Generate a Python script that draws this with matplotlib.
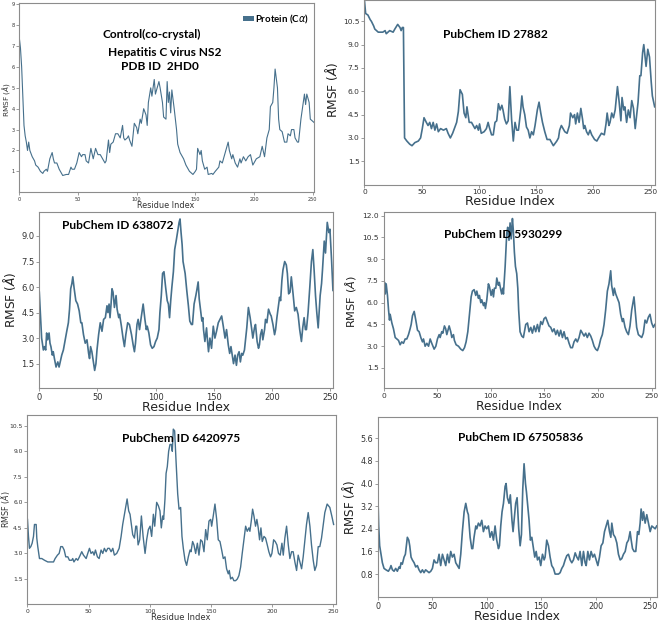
import matplotlib
matplotlib.use("Agg")
import matplotlib.pyplot as plt
import numpy as np
from matplotlib.patches import Patch

W, H = 661, 623
LINE = "#46708c"
SPINE = "#8c8c8c"
TICK_TXT = "#333333"
BOLD_FONT = ["Lato", "DejaVu Sans"]
YLABEL = r"RMSF ($\AA$)"

# (residue index, RMSF in Angstrom)
control_2hd0 = [
    (0, 7.4), (1, 6.9), (2, 6.0), (4, 3.2), (5, 2.7), (6, 2.4), (7, 2.0), (8, 2.4), (9, 2.0), (11, 1.7),
    (13, 1.5), (14, 1.3), (16, 1.2), (18, 1.0), (20, 0.9), (21, 1.0), (23, 1.1), (24, 1.0), (26, 1.6), (28, 1.9),
    (29, 1.6), (30, 1.4), (32, 1.4), (34, 1.1), (35, 1.0), (37, 0.8), (40, 0.85), (42, 0.85), (44, 1.2), (45, 1.1),
    (47, 1.1), (49, 1.4), (51, 1.9), (53, 1.7), (54, 1.8), (56, 1.8), (57, 1.5), (59, 1.4), (61, 2.1), (63, 1.6),
    (65, 2.1), (67, 1.8), (69, 1.8), (70, 1.7), (72, 1.5), (73, 1.4), (74, 1.5), (76, 2.5), (77, 1.9), (78, 2.3),
    (80, 2.4), (82, 2.8), (84, 2.8), (86, 2.6), (88, 3.2), (89, 2.6), (90, 2.5), (92, 2.6), (93, 2.7), (94, 2.5),
    (96, 2.2), (98, 3.3), (100, 3.1), (101, 2.8), (103, 3.5), (104, 3.3), (106, 4.0), (108, 3.7), (109, 3.2), (110, 4.3),
    (112, 5.0), (113, 4.6), (115, 5.4), (116, 4.7), (117, 4.9), (119, 5.3), (120, 5.0), (122, 4.3), (123, 3.6), (125, 3.5),
    (126, 5.3), (127, 4.3), (128, 4.8), (129, 3.8), (130, 4.9), (132, 4.0), (134, 3.0), (135, 2.3), (137, 1.9), (140, 1.6),
    (142, 1.3), (145, 1.0), (148, 0.85), (150, 1.0), (151, 1.1), (152, 2.1), (154, 1.8), (155, 2.0), (156, 1.5), (158, 1.1),
    (160, 1.2), (161, 0.85), (164, 0.9), (165, 0.85), (167, 1.0), (170, 1.2), (171, 1.5), (173, 1.4), (174, 1.6), (176, 2.0),
    (178, 2.4), (179, 2.0), (181, 1.6), (182, 1.8), (184, 1.4), (186, 1.2), (188, 1.6), (189, 1.4), (191, 1.7), (193, 1.5),
    (195, 1.7), (197, 1.8), (199, 1.3), (202, 1.6), (205, 1.7), (207, 2.2), (209, 1.7), (211, 2.6), (213, 3.0), (214, 4.1),
    (216, 4.3), (217, 5.0), (218, 5.9), (220, 5.0), (221, 3.5), (222, 3.0), (224, 2.9), (226, 2.4), (228, 2.4), (229, 2.8),
    (231, 2.7), (232, 3.0), (234, 3.0), (235, 2.6), (237, 2.4), (238, 2.4), (240, 3.5), (241, 3.9), (243, 4.7), (244, 4.2),
    (245, 4.7), (247, 4.3), (248, 3.5), (250, 3.4), (252, 3.3),
]

cid_27882 = [
    (0, 11.8), (1, 11.0), (3, 10.9), (5, 10.6), (6, 10.5), (8, 10.2), (9, 10.0), (12, 9.8), (14, 9.8), (16, 9.8),
    (18, 9.9), (19, 9.7), (22, 9.9), (25, 9.8), (26.5, 10.0), (29, 10.3), (31, 10.1), (32, 9.9), (33, 10.1), (34, 10.1),
    (35, 3.0), (37, 2.8), (39.5, 2.6), (41.5, 2.5), (44, 2.7), (47, 2.8), (49, 3.0), (50.5, 3.6), (52, 4.3), (54, 4.0),
    (55.5, 3.8), (57, 4.0), (58.5, 3.6), (60, 4.0), (61.5, 3.5), (63, 3.9), (64.5, 3.4), (66.5, 3.6), (69, 3.5), (71.5, 3.6),
    (73, 3.3), (75, 3.0), (77, 3.3), (79, 3.7), (80.5, 4.0), (82, 4.7), (83.5, 6.1), (85.5, 5.8), (87, 4.6), (88.5, 4.3),
    (89.5, 5.0), (91.5, 4.0), (93.5, 4.0), (95, 3.8), (96.5, 3.6), (98, 3.8), (99.5, 3.5), (100.5, 3.9), (102, 3.3), (104.5, 3.4),
    (106.5, 3.6), (108, 4.0), (109, 3.7), (111, 3.2), (112.5, 3.2), (114, 4.0), (115.5, 4.1), (117, 5.2), (118.5, 4.8), (120, 5.1),
    (121, 4.8), (122.5, 4.2), (124, 3.9), (125.5, 4.1), (127, 6.3), (128.5, 4.2), (130, 2.8), (131.5, 4.0), (133, 3.5), (134.5, 3.5),
    (136.5, 4.8), (137.5, 5.7), (138.5, 5.0), (140, 4.5), (141.5, 3.7), (143, 3.5), (144.5, 3.0), (146, 3.4), (147.5, 3.2), (149, 3.8),
    (151, 4.8), (152.5, 5.3), (154, 4.6), (155.5, 4.0), (157.5, 3.4), (159.5, 2.9), (162, 2.9), (165, 2.5), (168, 2.8), (169.5, 3.0),
    (170.5, 3.5), (172, 3.8), (175, 3.4), (177, 3.3), (179, 3.8), (180, 4.6), (182, 4.3), (183.5, 4.5), (184.5, 3.9), (186, 4.6),
    (187.5, 4.0), (189, 4.9), (190.5, 4.2), (191.5, 3.6), (192.5, 3.8), (194, 3.4), (195.5, 3.2), (197, 3.5), (198.5, 3.2), (201, 2.9),
    (203, 2.8), (204.5, 3.0), (207, 3.3), (209.5, 3.2), (211, 3.9), (212, 4.6), (213.5, 3.8), (214.5, 4.0), (216, 4.6), (217.5, 4.3),
    (219, 4.8), (221, 6.3), (222.5, 5.3), (224, 4.1), (225, 5.6), (226.5, 4.8), (227.5, 5.0), (229, 4.0), (230.5, 4.8), (232, 4.3),
    (233.5, 5.4), (235, 4.9), (236.5, 3.6), (238, 4.6), (239, 5.3), (240.5, 7.0), (241.5, 7.0), (243, 8.5), (244, 9.0), (246, 7.6),
    (247.5, 8.7), (249, 8.2), (250.5, 6.6), (251.5, 5.7), (253.5, 5.0),
]

cid_638072 = [
    (0, 5.7), (1, 4.4), (2, 3.0), (3.5, 2.3), (4.5, 2.5), (5.5, 2.3), (6.3, 3.3), (7.2, 2.9), (8.4, 3.3), (9.2, 2.7),
    (10, 2.5), (11.2, 2.0), (12, 2.2), (13, 1.8), (14.4, 1.3), (15.9, 1.6), (17, 1.3), (18, 1.6), (19.3, 2.0), (20.7, 2.3),
    (22, 2.8), (23.6, 3.4), (25, 3.9), (26, 4.7), (27, 5.9), (28, 6.2), (28.8, 6.6), (30, 5.9), (31.4, 5.2), (32.9, 5.0),
    (34.3, 4.6), (35.7, 3.9), (36.6, 3.9), (38, 3.2), (39.5, 2.7), (41, 2.9), (42.4, 2.1), (43.2, 1.8), (44.1, 2.5), (45.2, 2.2),
    (46.7, 1.5), (47.6, 1.1), (48.7, 1.5), (49.6, 2.3), (51, 3.2), (52.4, 3.9), (53.9, 3.4), (55.3, 4.1), (56.8, 4.2), (58.2, 4.9),
    (59, 4.5), (60, 5.0), (60.8, 4.2), (61.7, 5.0), (62.5, 5.9), (63.4, 5.7), (64.6, 4.8), (66, 5.5), (66.9, 4.7), (68.3, 4.2),
    (69, 4.4), (70.6, 3.7), (72, 3.0), (73.2, 2.5), (74.4, 3.2), (76, 3.9), (77.5, 3.8), (79.3, 3.2), (80.7, 2.6), (81.8, 2.2),
    (82.7, 2.7), (84, 3.8), (85, 4.1), (86.2, 3.5), (87.6, 4.2), (89.3, 5.0), (90.8, 4.1), (92, 3.5), (92.8, 3.7), (94.2, 3.3),
    (95.7, 2.6), (97.1, 2.4), (98.6, 2.5), (100, 2.8), (101.4, 3.0), (102.9, 3.5), (103.7, 4.5), (104.9, 5.5), (106, 6.8), (107.2, 6.9),
    (108.6, 6.0), (110, 5.2), (111, 5.0), (112, 4.2), (113, 5.2), (114, 6.0), (115.3, 6.9), (116.4, 8.2), (117.9, 8.8), (120.2, 9.8),
    (121, 10.0), (121.9, 9.2), (122.8, 8.5), (123.6, 7.5), (125.4, 6.8), (126.8, 5.8), (128.2, 4.9), (129.4, 4.0), (130.8, 3.8), (131.7, 3.8),
    (133.1, 5.0), (134.6, 5.5), (135.4, 5.8), (136.6, 6.3), (137.5, 5.3), (138.9, 4.5), (139.8, 4.0), (140.6, 4.2), (141.2, 3.5), (142.4, 2.8),
    (143.8, 3.6), (144.7, 2.8), (145.5, 2.2), (146.7, 3.0), (148.1, 2.4), (149.6, 3.7), (151, 3.0), (152.4, 3.4), (153.9, 3.9), (155.3, 4.1),
    (156.8, 4.3), (158.2, 3.7), (159.7, 3.0), (161, 3.5), (162.5, 2.6), (163.7, 2.1), (164.8, 2.5), (166.3, 1.8), (167, 1.5), (168.3, 2.0),
    (169.5, 1.4), (170.6, 2.0), (171.8, 2.2), (172.9, 1.6), (174, 2.1), (175, 2.0), (176.4, 2.3), (177.2, 2.8), (178.4, 3.6), (179.8, 4.8),
    (181.3, 4.2), (182.7, 3.5), (183.6, 3.0), (185, 3.6), (185.9, 3.8), (187.3, 2.8), (188.5, 2.4), (189.3, 2.6), (190.2, 3.2), (191.4, 3.5),
    (192.2, 2.9), (193.7, 3.5), (194.5, 4.1), (195.7, 3.9), (197.1, 4.7), (198.6, 4.4), (199.4, 4.3), (200.9, 3.8), (202.3, 3.2), (203.2, 3.5),
    (204.3, 4.2), (205.8, 5.0), (206.6, 5.4), (207.5, 5.2), (208.6, 6.4), (209.5, 7.0), (211, 7.5), (212.4, 7.3), (213.3, 6.8), (214.4, 5.6),
    (215.6, 5.7), (216.7, 6.6), (218.2, 5.6), (219.6, 4.6), (221, 4.8), (222.5, 4.4), (223.9, 3.5), (225.4, 2.8), (226.5, 3.6), (227.7, 4.2),
    (228.8, 3.5), (229.7, 3.5), (231.1, 4.5), (232.6, 6.0), (234, 7.5), (235.2, 8.2), (236.3, 7.0), (237.5, 5.5), (238.6, 4.5), (239.8, 3.6),
    (240.6, 4.5), (241.5, 5.5), (242.7, 6.2), (243.5, 7.0), (245, 8.7), (246.1, 8.0), (247.6, 9.8), (249, 9.2), (249.9, 9.4), (251.3, 7.6),
    (252.5, 5.8),
]

cid_5930299 = [
    (0, 6.8), (1, 7.4), (1.6, 6.6), (2.5, 7.3), (3.7, 6.5), (4.7, 5.5), (5.6, 4.8), (6.2, 5.2), (7.8, 4.6), (9.3, 4.2),
    (10.9, 3.6), (12.4, 3.5), (14, 3.4), (15.5, 3.1), (17, 3.3), (18.6, 3.2), (20.2, 3.5), (21.7, 3.5), (23.3, 3.8), (24.8, 4.2),
    (25.8, 4.5), (27, 5.1), (28.6, 5.4), (30.1, 4.8), (31.7, 4.1), (33.2, 4.0), (34.8, 3.6), (36.3, 3.3), (37.3, 3.5), (38.8, 3.0),
    (40.4, 3.2), (42, 3.0), (43.5, 3.5), (45, 3.2), (47.2, 2.8), (48.8, 3.0), (50.3, 3.5), (51.9, 3.8), (52.8, 3.6), (54.3, 4.0),
    (55.3, 3.9), (56.8, 4.4), (58, 4.2), (59, 3.8), (61.2, 4.4), (62.7, 4.0), (63.7, 3.6), (65.2, 3.8), (66.1, 3.4), (67.7, 3.1),
    (69.9, 3.0), (72, 2.8), (73.9, 2.7), (75.5, 2.9), (77, 3.3), (78.6, 4.0), (80.1, 5.2), (81.7, 6.4), (82.9, 6.8), (84.5, 6.9),
    (86, 6.5), (87, 6.8), (88.5, 6.3), (89.4, 6.5), (90.7, 6.0), (91.6, 6.2), (93.2, 5.8), (94.1, 6.0), (95, 5.6), (96.3, 6.2),
    (97.8, 7.3), (98.8, 7.1), (100.3, 6.5), (101.6, 6.9), (102.5, 6.4), (103.4, 7.0), (104.7, 7.0), (105.6, 7.7), (107.1, 7.2), (108, 7.4),
    (109.3, 6.9), (110.2, 6.6), (111.2, 7.0), (111.8, 6.6), (113.4, 8.5), (114.9, 10.8), (115.8, 11.2), (117, 10.3), (118, 11.5), (119, 10.4),
    (120.2, 11.8), (121, 11.0), (122, 9.5), (123, 8.5), (124.2, 8.0), (125.2, 7.0), (126, 5.5), (127.3, 4.0), (128.9, 3.7), (130.4, 3.6),
    (132.6, 4.5), (134.2, 4.6), (135.7, 4.0), (137.3, 4.3), (138.8, 3.9), (140.4, 4.4), (141.9, 4.0), (143.5, 4.5), (145, 4.0), (146.6, 4.7),
    (148.1, 4.5), (149.7, 4.9), (151.2, 5.0), (152.8, 4.7), (154.3, 4.4), (155.9, 4.3), (157.5, 4.0), (159, 4.2), (160.6, 3.8), (162.1, 4.1),
    (163.7, 3.7), (165.2, 4.1), (166.8, 3.6), (168.3, 4.0), (169.9, 3.5), (171.4, 3.6), (173, 3.2), (174.5, 2.9), (176.1, 2.9), (177.6, 3.3),
    (179.2, 3.5), (180.7, 3.3), (182.3, 3.6), (183.9, 4.1), (185.4, 3.9), (187, 3.7), (188.5, 3.9), (190, 3.6), (191.6, 3.9), (193.2, 3.7),
    (194.7, 3.4), (196.3, 3.0), (197.8, 2.8), (199.4, 2.7), (200.9, 3.0), (202.5, 3.5), (204, 3.8), (205.6, 4.5), (207.1, 5.5), (208.7, 6.8),
    (210.2, 7.3), (211.8, 8.2), (212.7, 7.2), (214.3, 6.5), (215.2, 7.0), (216.5, 6.6), (218, 6.3), (219.6, 6.0), (221.1, 5.2), (222.7, 4.7),
    (223.6, 4.9), (225.2, 4.3), (226.7, 4.0), (228.3, 3.8), (229.8, 4.4), (231.4, 5.5), (233.5, 6.4), (234.8, 5.3), (236, 4.3), (237.6, 3.8),
    (239.1, 3.7), (240.7, 3.6), (242.2, 3.9), (243.8, 4.8), (245.3, 4.6), (246.9, 5.0), (248.4, 5.2), (250, 4.6), (251.6, 4.3), (253, 4.5),
]

cid_6420975 = [
    (0, 5.0), (0.8, 4.0), (1.6, 3.3), (2.7, 3.4), (3.8, 3.6), (4.9, 4.0), (5.7, 4.7), (7.1, 4.7), (7.6, 3.9), (8.4, 3.4),
    (9.8, 2.7), (11.7, 2.7), (13.9, 2.6), (16.6, 2.5), (18.5, 2.5), (21.3, 2.5), (22.6, 2.7), (24.5, 2.9), (25.9, 3.0), (27.2, 3.4),
    (28.6, 3.4), (30, 3.2), (31.3, 2.8), (33, 2.8), (34.3, 2.6), (36.2, 2.6), (37, 2.7), (38, 2.5), (39.8, 2.7), (41.1, 2.6),
    (42.5, 2.8), (44.4, 3.1), (45.8, 2.9), (48, 2.7), (49.3, 3.0), (50.7, 3.3), (52, 3.0), (53.4, 3.1), (54.5, 2.9), (55.6, 3.2),
    (57.2, 2.8), (58.6, 2.7), (60.2, 3.2), (61.6, 3.0), (62.9, 3.3), (64.3, 3.1), (65.7, 3.3), (67, 3.3), (68.4, 3.1), (69.8, 3.3),
    (71.1, 2.9), (73, 3.0), (75, 3.3), (76.6, 4.0), (77.9, 4.7), (79.8, 5.5), (81.5, 6.2), (82.8, 5.5), (83.9, 5.3), (86.1, 4.1),
    (87.5, 3.9), (88.6, 4.6), (89.4, 4.6), (90.5, 3.5), (91.8, 3.8), (93.2, 5.2), (94.6, 4.0), (96.2, 3.0), (97.5, 3.8), (98.9, 4.4),
    (100.3, 4.6), (101.6, 4.0), (103, 5.3), (104.1, 4.6), (105.7, 6.0), (107.1, 5.8), (108.4, 5.5), (109.5, 4.5), (110.6, 5.2), (111.4, 5.0),
    (112.5, 6.2), (113.4, 7.7), (114.4, 8.1), (115.5, 9.0), (116.6, 9.4), (117.7, 9.4), (118.5, 9.0), (119.3, 10.3), (120.4, 10.2), (121.5, 8.5),
    (122.9, 6.5), (124, 5.6), (125.3, 5.7), (126.4, 4.0), (127.5, 3.3), (128.9, 2.6), (130.2, 2.3), (131.6, 2.8), (133, 3.2), (133.8, 3.1),
    (135.1, 3.7), (136.2, 3.5), (137.6, 3.0), (139, 3.6), (140.3, 2.9), (141.7, 3.8), (143, 3.7), (144.4, 3.1), (145.8, 4.4), (147.1, 3.8),
    (148.5, 4.9), (149.9, 5.0), (150.7, 4.6), (152, 5.2), (153.4, 5.9), (154.8, 5.0), (156.1, 3.8), (157.5, 3.7), (158.9, 3.2), (160.2, 2.7),
    (161.6, 2.8), (162.9, 2.1), (164.3, 1.8), (165.1, 2.0), (166.2, 1.5), (167.6, 1.6), (168.9, 1.4), (170.3, 1.4), (171.7, 1.5), (173, 1.7),
    (174.4, 2.2), (175.7, 3.0), (177.1, 3.8), (178.5, 4.6), (179.8, 4.3), (181.2, 4.5), (182, 4.3), (183.1, 4.9), (184.2, 5.6), (185.3, 5.2),
    (186.6, 4.6), (187.7, 5.0), (188.8, 4.5), (189.9, 3.8), (191, 4.5), (192.1, 3.7), (193.5, 4.0), (194.8, 3.9), (196.2, 3.5), (197.5, 3.1),
    (198.9, 2.8), (200, 3.0), (201.4, 3.8), (202.7, 3.7), (204.1, 3.5), (205.4, 3.0), (206.8, 2.9), (208.2, 3.6), (209.3, 2.9), (210.6, 3.9),
    (212, 4.6), (213.4, 3.5), (214.7, 2.7), (216.1, 3.1), (217.4, 3.1), (218.8, 2.5), (220.2, 2.0), (221.5, 2.9), (222.9, 2.5), (224.3, 2.1),
    (225.6, 2.8), (227, 3.8), (228.3, 4.7), (229.7, 5.4), (231.1, 4.6), (232.4, 3.5), (233.8, 2.6), (235.1, 2.0), (236.5, 2.3), (237.9, 3.4),
    (239.2, 3.4), (240.6, 3.9), (242, 4.7), (243.3, 5.4), (245.2, 5.9), (247.4, 5.7), (249, 5.2), (250.5, 4.7),
]

cid_67505836 = [
    (0, 3.9), (0.9, 2.5), (1.8, 1.8), (3, 1.5), (4.3, 1.2), (5.8, 1.0), (7.6, 0.95), (9.8, 0.9), (11.3, 1.0), (12.2, 1.1),
    (13.5, 0.95), (15, 0.9), (16.5, 1.0), (18, 0.9), (19.6, 1.05), (20.5, 1.0), (21.4, 1.2), (22.6, 1.15), (24.2, 1.4), (25.4, 1.5),
    (27.2, 2.1), (28.5, 2.0), (29.4, 1.8), (30.6, 1.4), (31.8, 1.3), (33.4, 1.2), (34.9, 1.05), (36.4, 1.1), (37.9, 0.95), (39.5, 0.85),
    (41, 0.95), (42.5, 0.85), (44, 0.95), (45.6, 0.9), (47.1, 0.85), (48.7, 0.9), (50.2, 1.0), (51.7, 1.3), (53.2, 1.2), (54.8, 1.2),
    (56.3, 1.5), (57.8, 1.1), (59.4, 1.5), (60.9, 1.3), (62.4, 1.1), (64, 1.5), (65.5, 1.2), (67, 1.6), (68.5, 1.4), (70.1, 1.5),
    (71.6, 1.2), (73.1, 1.1), (74.7, 1.0), (76.2, 1.5), (77.7, 2.3), (79.3, 3.0), (80.8, 3.3), (82.3, 3.0), (83.2, 2.9), (84.8, 2.1),
    (86.3, 1.7), (87.2, 1.7), (88.4, 2.1), (90, 2.5), (90.9, 2.4), (92.4, 2.6), (93.9, 2.5), (95.5, 2.7), (97, 2.3), (98.5, 2.5),
    (100, 2.4), (101.6, 2.5), (103.1, 2.1), (104.7, 2.3), (106.2, 2.0), (107.7, 2.5), (109.2, 2.0), (110.8, 1.7), (111.7, 1.8), (112.9, 2.5),
    (114.1, 3.0), (115.4, 3.3), (116.9, 3.9), (117.8, 4.0), (119, 3.5), (120.5, 3.3), (121.7, 3.6), (123.2, 2.7), (124.2, 2.3), (125.4, 2.8),
    (126.6, 3.3), (127.9, 3.5), (129.4, 2.4), (130.7, 1.8), (131.9, 2.2), (133.1, 3.8), (134.3, 4.7), (135.6, 4.0), (136.5, 3.7), (137.7, 3.2),
    (138.9, 2.7), (140.1, 2.0), (141.4, 2.1), (142.9, 1.7), (144.1, 1.4), (145.4, 1.6), (146.6, 1.3), (148.1, 1.4), (149.6, 1.1), (151.2, 1.5),
    (152.7, 1.3), (153.6, 1.4), (155.1, 2.0), (156.7, 1.8), (158.2, 1.4), (159.7, 1.1), (161.3, 1.0), (162.8, 0.8), (165.9, 0.8), (167.4, 0.85),
    (168.9, 1.0), (170.4, 1.1), (172, 1.3), (173.5, 1.45), (175, 1.5), (176.6, 1.3), (178.1, 1.2), (179.6, 1.3), (181.2, 1.55), (182.7, 1.4),
    (184.2, 1.3), (185.7, 1.6), (187.3, 1.1), (188.8, 1.6), (190.3, 1.2), (191.3, 1.1), (192.8, 1.6), (194.3, 1.3), (195.8, 1.6), (197.4, 1.4),
    (198.9, 1.5), (200.4, 1.3), (202, 1.1), (203.5, 1.4), (205, 1.8), (206.6, 1.9), (208.1, 2.3), (209.6, 2.5), (211.1, 2.7), (212.7, 2.3),
    (213.9, 2.1), (214.8, 2.6), (216.3, 2.2), (217.9, 2.1), (219.4, 1.9), (220.9, 1.5), (222.5, 1.3), (224, 1.35), (225.5, 1.5), (227.1, 1.6),
    (228.6, 1.9), (230.1, 2.0), (231.6, 2.3), (232.6, 2.0), (233.8, 1.7), (235.3, 1.6), (236.8, 1.6), (238.4, 2.3), (239.6, 2.2), (240.8, 2.6),
    (241.7, 3.1), (243, 2.7), (243.9, 3.0), (245.4, 2.6), (246.9, 2.9), (248.5, 2.6), (250, 2.3), (251.5, 2.5), (254.6, 2.4), (256, 2.5),
]

control_title = ["Control(co-crystal)", "Hepatitis C virus NS2", "PDB ID  2HD0"]
x_ticks = [0, 50, 100, 150, 200, 250]


def px_axes(fig, left, top, right, bottom):
    """Axes placed by pixel box (top-left origin)."""
    return fig.add_axes([left / W, 1 - bottom / H, (right - left) / W, (bottom - top) / H])


def ftext(fig, x, y, s, **kw):
    kw.setdefault("ha", "center")
    kw.setdefault("va", "center")
    return fig.text(x / W, 1 - y / H, s, **kw)


def panel(fig, box, pairs, xlim, ylim, yticks, yfmt, tick_fs, lw):
    ax = px_axes(fig, *box)
    res, rmsf = np.array(pairs).T
    ax.plot(res, rmsf, color=LINE, lw=lw, solid_joinstyle="round")
    ax.set_xlim(*xlim)
    ax.set_ylim(*ylim)
    ax.set_xticks(x_ticks)
    ax.set_yticks(yticks)
    ax.set_yticklabels([yfmt.format(v) for v in yticks])
    ax.tick_params(labelsize=tick_fs, colors=TICK_TXT, length=2, width=0.6, pad=1.5)
    ax.tick_params(color=SPINE)
    for s in ax.spines.values():
        s.set_color(SPINE)
        s.set_linewidth(0.8)
    return ax


fig = plt.figure(figsize=(W / 100, H / 100), dpi=100)

# top-left: control
ax1 = panel(fig, (19.3, 3.3, 314.3, 192.2), control_2hd0, (0, 251.4), (0, 9.05),
            [1, 2, 3, 4, 5, 6, 7, 8, 9], "{:d}", 3.6, 0.8)
ftext(fig, 166, 205.8, "Residue Index", fontsize=5.9, color="#333333")
ftext(fig, 6.2, 100, YLABEL, fontsize=5.3, rotation=90, color="#333333")
for (cx, cy), line in zip([(152, 34), (164.5, 52), (160, 66)], control_title):
    ftext(fig, cx, cy, line, fontsize=8.6, fontweight="bold", family=BOLD_FONT)
ax1.legend(handles=[Patch(facecolor=LINE, edgecolor="none", label=r"Protein (C$\alpha$)")],
           loc="center left", bbox_to_anchor=(243 / W, 1 - 19 / H), bbox_transform=fig.transFigure,
           frameon=False, borderpad=0, borderaxespad=0, handlelength=1.1, handleheight=0.45,
           handletextpad=0.15, prop=dict(family=BOLD_FONT, weight="bold", size=6.9))

# top-right: 27882
panel(fig, (364.5, -0.5, 655, 184.6), cid_27882, (0, 253.8), (0, 11.9),
      [1.5, 3.0, 4.5, 6.0, 7.5, 9.0, 10.5], "{:.1f}", 5.4, 1.2)
ftext(fig, 510, 201.5, "Residue Index", fontsize=9.2, color="#222222")
ftext(fig, 331, 90, YLABEL, fontsize=8.8, rotation=90, color="#222222")
ftext(fig, 495, 35, "PubChem ID 27882", fontsize=8.6, fontweight="bold", family=BOLD_FONT)

# middle-left: 638072
panel(fig, (39.3, 212.5, 333.3, 388.3), cid_638072, (0, 252.8), (0.05, 10.38),
      [1.5, 3.0, 4.5, 6.0, 7.5, 9.0], "{:.1f}", 6.0, 1.2)
ftext(fig, 186, 407.8, "Residue Index", fontsize=9.0, color="#222222")
ftext(fig, 9.5, 300, YLABEL, fontsize=8.8, rotation=90, color="#222222")
ftext(fig, 118, 225.5, "PubChem ID 638072", fontsize=8.6, fontweight="bold", family=BOLD_FONT)

# middle-right: 5930299
panel(fig, (383.5, 212.3, 655, 388.3), cid_5930299, (0, 253.1), (0.1, 12.23),
      [1.5, 3.0, 4.5, 6.0, 7.5, 9.0, 10.5, 12.0], "{:.1f}", 5.4, 1.2)
ftext(fig, 519, 406.5, "Residue Index", fontsize=8.8, color="#222222")
ftext(fig, 351, 302, YLABEL, fontsize=8.2, rotation=90, color="#222222")
ftext(fig, 503.5, 234.3, "PubChem ID 5930299", fontsize=8.6, fontweight="bold", family=BOLD_FONT)

# bottom-left: 6420975
panel(fig, (27.5, 415, 335.7, 604), cid_6420975, (0, 252.2), (0.03, 11.13),
      [1.5, 3.0, 4.5, 6.0, 7.5, 9.0, 10.5], "{:.1f}", 4.3, 1.0)
ftext(fig, 181, 617.3, "Residue Index", fontsize=6.0, color="#333333")
ftext(fig, 5.5, 509, YLABEL, fontsize=5.8, rotation=90, color="#333333")
ftext(fig, 181, 439, "PubChem ID 6420975", fontsize=8.6, fontweight="bold", family=BOLD_FONT)

# bottom-right: 67505836
panel(fig, (377.7, 416.5, 656.7, 596.7), cid_67505836, (0, 256), (0, 6.37),
      [0.8, 1.6, 2.4, 3.2, 4.0, 4.8, 5.6], "{:.1f}", 5.8, 1.2)
ftext(fig, 517, 616.5, "Residue Index", fontsize=8.8, color="#222222")
ftext(fig, 348.5, 507, YLABEL, fontsize=8.6, rotation=90, color="#222222")
ftext(fig, 521, 437.7, "PubChem ID 67505836", fontsize=8.6, fontweight="bold", family=BOLD_FONT)

fig.savefig("out.png", dpi=100, facecolor="white")
